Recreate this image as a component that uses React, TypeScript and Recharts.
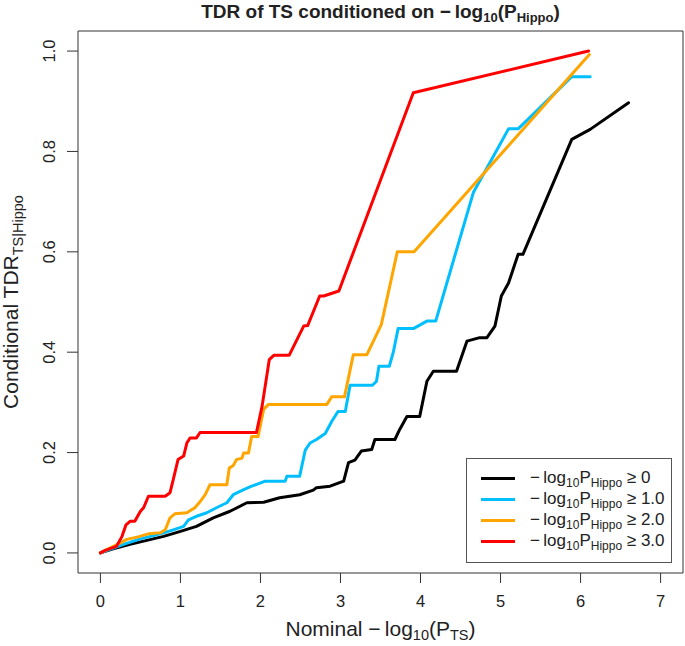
import { LineChart, Line, XAxis, YAxis, ReferenceArea, Legend } from "recharts";

const FONT = "'Liberation Sans', Arial, Helvetica, sans-serif";
const INK = "#222";

const X_TICKS = [0, 1, 2, 3, 4, 5, 6, 7];
const Y_TICKS = [0, 0.2, 0.4, 0.6, 0.8, 1.0];

// -log10 P_Hippo >= 0
const tdrP0 = [
    { x: 0, y: 0 }, { x: 0.16, y: 0.008 }, { x: 0.37, y: 0.017 }, { x: 0.58, y: 0.025 },
    { x: 0.79, y: 0.033 }, { x: 1.0, y: 0.043 }, { x: 1.2, y: 0.053 }, { x: 1.41, y: 0.07 },
    { x: 1.62, y: 0.083 }, { x: 1.83, y: 0.1 }, { x: 2.04, y: 0.101 }, { x: 2.24, y: 0.11 },
    { x: 2.49, y: 0.116 }, { x: 2.66, y: 0.125 }, { x: 2.7, y: 0.13 }, { x: 2.87, y: 0.133 },
    { x: 3.04, y: 0.143 }, { x: 3.1, y: 0.18 }, { x: 3.18, y: 0.185 }, { x: 3.26, y: 0.203 },
    { x: 3.39, y: 0.206 }, { x: 3.43, y: 0.226 }, { x: 3.68, y: 0.226 }, { x: 3.74, y: 0.246 },
    { x: 3.83, y: 0.272 }, { x: 3.99, y: 0.272 }, { x: 4.08, y: 0.342 }, { x: 4.16, y: 0.362 },
    { x: 4.45, y: 0.362 }, { x: 4.58, y: 0.422 }, { x: 4.74, y: 0.429 }, { x: 4.83, y: 0.429 },
    { x: 4.93, y: 0.452 }, { x: 5.01, y: 0.512 }, { x: 5.1, y: 0.538 }, { x: 5.22, y: 0.595 },
    { x: 5.28, y: 0.595 }, { x: 5.89, y: 0.824 }, { x: 6.12, y: 0.844 }, { x: 6.6, y: 0.897 },
];

// -log10 P_Hippo >= 1.0
const tdrP1 = [
    { x: 0, y: 0 }, { x: 0.29, y: 0.017 }, { x: 0.5, y: 0.028 }, { x: 0.7, y: 0.036 },
    { x: 0.79, y: 0.04 }, { x: 0.91, y: 0.046 }, { x: 1.04, y: 0.053 }, { x: 1.1, y: 0.066 },
    { x: 1.2, y: 0.073 }, { x: 1.33, y: 0.08 }, { x: 1.45, y: 0.09 }, { x: 1.58, y: 0.1 },
    { x: 1.66, y: 0.116 }, { x: 1.79, y: 0.126 }, { x: 1.89, y: 0.133 }, { x: 2.06, y: 0.143 },
    { x: 2.31, y: 0.143 }, { x: 2.33, y: 0.153 }, { x: 2.49, y: 0.153 }, { x: 2.56, y: 0.205 },
    { x: 2.62, y: 0.219 }, { x: 2.7, y: 0.226 }, { x: 2.81, y: 0.238 }, { x: 2.89, y: 0.262 },
    { x: 2.97, y: 0.282 }, { x: 3.06, y: 0.282 }, { x: 3.12, y: 0.334 }, { x: 3.4, y: 0.334 },
    { x: 3.45, y: 0.342 }, { x: 3.48, y: 0.372 }, { x: 3.61, y: 0.372 }, { x: 3.66, y: 0.4 },
    { x: 3.72, y: 0.447 }, { x: 3.91, y: 0.447 }, { x: 4.08, y: 0.462 }, { x: 4.19, y: 0.462 },
    { x: 4.66, y: 0.718 }, { x: 5.1, y: 0.845 }, { x: 5.22, y: 0.845 }, { x: 5.89, y: 0.949 },
    { x: 6.12, y: 0.949 },
];

// -log10 P_Hippo >= 2.0
const tdrP2 = [
    { x: 0, y: 0 }, { x: 0.25, y: 0.02 }, { x: 0.33, y: 0.027 }, { x: 0.47, y: 0.032 },
    { x: 0.6, y: 0.038 }, { x: 0.75, y: 0.04 }, { x: 0.81, y: 0.046 }, { x: 0.87, y: 0.07 },
    { x: 0.93, y: 0.078 }, { x: 1.08, y: 0.08 }, { x: 1.18, y: 0.09 }, { x: 1.25, y: 0.103 },
    { x: 1.31, y: 0.116 }, { x: 1.37, y: 0.136 }, { x: 1.58, y: 0.136 }, { x: 1.61, y: 0.169 },
    { x: 1.66, y: 0.174 }, { x: 1.7, y: 0.186 }, { x: 1.77, y: 0.189 }, { x: 1.79, y: 0.199 },
    { x: 1.85, y: 0.199 }, { x: 1.89, y: 0.232 }, { x: 1.97, y: 0.232 }, { x: 2.04, y: 0.286 },
    { x: 2.1, y: 0.296 }, { x: 2.83, y: 0.296 }, { x: 2.89, y: 0.311 }, { x: 3.05, y: 0.311 },
    { x: 3.16, y: 0.395 }, { x: 3.33, y: 0.395 }, { x: 3.51, y: 0.455 }, { x: 3.71, y: 0.6 },
    { x: 3.92, y: 0.6 }, { x: 6.11, y: 0.993 },
];

// -log10 P_Hippo >= 3.0
const tdrP3 = [
    { x: 0, y: 0 }, { x: 0.06, y: 0.005 }, { x: 0.2, y: 0.013 }, { x: 0.27, y: 0.033 },
    { x: 0.32, y: 0.056 }, { x: 0.37, y: 0.063 }, { x: 0.43, y: 0.063 }, { x: 0.5, y: 0.083 },
    { x: 0.54, y: 0.09 }, { x: 0.6, y: 0.113 }, { x: 0.81, y: 0.113 }, { x: 0.87, y: 0.12 },
    { x: 0.91, y: 0.146 }, { x: 0.97, y: 0.186 }, { x: 1.04, y: 0.193 }, { x: 1.08, y: 0.219 },
    { x: 1.12, y: 0.229 }, { x: 1.2, y: 0.229 }, { x: 1.245, y: 0.24 }, { x: 1.95, y: 0.24 },
    { x: 2.02, y: 0.292 }, { x: 2.11, y: 0.385 }, { x: 2.17, y: 0.394 }, { x: 2.36, y: 0.394 },
    { x: 2.54, y: 0.452 }, { x: 2.59, y: 0.453 }, { x: 2.74, y: 0.512 }, { x: 2.79, y: 0.512 },
    { x: 2.98, y: 0.522 }, { x: 3.91, y: 0.917 }, { x: 6.1, y: 1.0 },
];

const SERIES = [
    { key: "p0", threshold: "0", color: "#000000", data: tdrP0 },
    { key: "p1", threshold: "1.0", color: "#00BFFF", data: tdrP1 },
    { key: "p2", threshold: "2.0", color: "#FFA500", data: tdrP2 },
    { key: "p3", threshold: "3.0", color: "#FF0000", data: tdrP3 },
];

function XTick(props: any) {
    const { x, y, payload } = props;
    return (
        <text x={x} y={y} dy={22} textAnchor="middle" fontSize={16.5} fontFamily={FONT} fill={INK}>
            {String(payload.value)}
        </text>
    );
}

function YTick(props: any) {
    const { x, y, payload } = props;
    return (
        <text transform={`translate(${x - 10}, ${y}) rotate(-90)`} textAnchor="middle" fontSize={16.5} fontFamily={FONT} fill={INK}>
            {Number(payload.value).toFixed(1)}
        </text>
    );
}

function XTitle() {
    return (
        <text x={380.5} y={636} textAnchor="middle" fontSize={21} fontFamily={FONT} fill={INK}>
            Nominal −{"\u2009"}log<tspan dy={4} fontSize={14.5}>10</tspan>
            <tspan dy={-4}>(P</tspan><tspan dy={4} fontSize={14.5}>TS</tspan><tspan dy={-4}>)</tspan>
        </text>
    );
}

function YTitle() {
    return (
        <text transform="translate(18, 302) rotate(-90)" textAnchor="middle" fontSize={21} fontFamily={FONT} fill={INK}>
            Conditional TDR<tspan dy={5} fontSize={14.5}>TS|Hippo</tspan>
        </text>
    );
}

function LegendBox() {
    return (
        <div style={{
            border: "1px solid #555", background: "#fff", boxSizing: "border-box",
            width: 206, height: 105, padding: "9px 0 0 14px", fontFamily: FONT, fontSize: 17, color: INK,
        }}>
            {SERIES.map((s) => (
                <div key={s.key} style={{ display: "flex", alignItems: "center", height: 21 }}>
                    <div style={{ width: 34, height: 3, background: s.color, marginRight: 15 }} />
                    <span style={{ whiteSpace: "nowrap", lineHeight: "21px" }}>
                        −{"\u2009"}log<span style={{ fontSize: 12, position: "relative", top: 4 }}>10</span>P
                        <span style={{ fontSize: 12, position: "relative", top: 4 }}>Hippo</span> ≥ {s.threshold}
                    </span>
                </div>
            ))}
        </div>
    );
}

export default function App() {
    return (
        <div style={{ position: "absolute", left: 0, top: 0, width: 685, height: 646, background: "#fff" }}>
            <div style={{
                position: "absolute", left: 80, top: 2, width: 601, textAlign: "center",
                fontFamily: FONT, fontWeight: "bold", fontSize: 19, lineHeight: "19px", color: INK, zIndex: 2,
            }}>
                TDR of TS conditioned on −{"\u2009"}log<span style={{ fontSize: 13, position: "relative", top: 4 }}>10</span>(P
                <span style={{ fontSize: 13, position: "relative", top: 4 }}>Hippo</span>)
            </div>
            <LineChart width={685} height={646} margin={{ top: 31, right: 2, bottom: 13, left: 18 }}>
                <XAxis
                    type="number"
                    dataKey="x"
                    domain={[-0.28, 7.28]}
                    ticks={X_TICKS}
                    interval={0}
                    allowDataOverflow
                    axisLine={false}
                    tickLine={{ stroke: "#333" }}
                    tickSize={10}
                    tick={(p: any) => <XTick {...p} />}
                    height={60}
                    label={<XTitle />}
                />
                <YAxis
                    type="number"
                    domain={[-0.04, 1.04]}
                    ticks={Y_TICKS}
                    interval={0}
                    allowDataOverflow
                    axisLine={false}
                    tickLine={{ stroke: "#333" }}
                    tickSize={11}
                    tick={(p: any) => <YTick {...p} />}
                    width={60}
                    label={<YTitle />}
                />
                <ReferenceArea x1={-0.28} x2={7.28} y1={-0.04} y2={1.04} fill="none" stroke="#333" strokeWidth={1} ifOverflow="visible" />
                {SERIES.map((s) => (
                    <Line
                        key={s.key}
                        data={s.data}
                        dataKey="y"
                        name={s.threshold}
                        type="linear"
                        stroke={s.color}
                        strokeWidth={3}
                        strokeLinejoin="round"
                        strokeLinecap="round"
                        dot={false}
                        activeDot={false}
                        isAnimationActive={false}
                    />
                ))}
                <Legend
                    layout="vertical"
                    align="center"
                    verticalAlign="middle"
                    content={() => <LegendBox />}
                    wrapperStyle={{ left: 466, top: 458, width: 206, height: 105 }}
                />
            </LineChart>
        </div>
    );
}
